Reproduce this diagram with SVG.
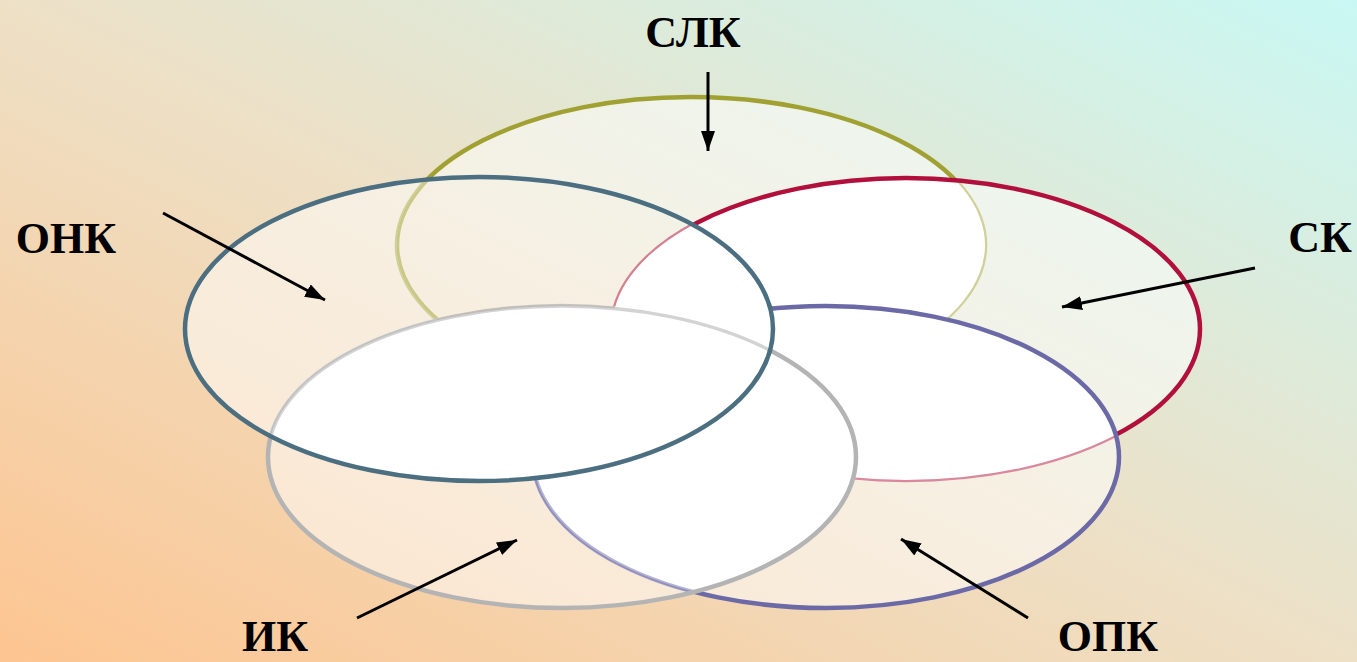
<svg xmlns="http://www.w3.org/2000/svg" width="1357" height="662" viewBox="0 0 1357 662">
  <defs>
    <linearGradient id="bg" x1="0" y1="1" x2="1" y2="0">
      <stop offset="0" stop-color="#fdc591"/>
      <stop offset="0.5" stop-color="#ede0c6"/>
      <stop offset="1" stop-color="#c9f8f4"/>
    </linearGradient>
    <linearGradient id="cream" x1="0" y1="1" x2="1" y2="0">
      <stop offset="0" stop-color="#fee2c8"/>
      <stop offset="0.5" stop-color="#f6f0e3"/>
      <stop offset="1" stop-color="#e4fcfa"/>
    </linearGradient>
    <clipPath id="cSLK"><ellipse cx="691" cy="245" rx="294" ry="148"/></clipPath>
    <clipPath id="cSK"><ellipse cx="906" cy="329" rx="294" ry="151"/></clipPath>
    <clipPath id="cIK"><ellipse cx="562" cy="457" rx="294" ry="151"/></clipPath>
    <clipPath id="cONK"><ellipse cx="479" cy="329" rx="294" ry="152"/></clipPath>
    <clipPath id="cSO">
      <ellipse cx="691" cy="245" rx="294" ry="148"/>
      <ellipse cx="826" cy="457" rx="293" ry="151"/>
    </clipPath>
    <clipPath id="cSI">
      <ellipse cx="906" cy="329" rx="294" ry="151"/>
      <ellipse cx="562" cy="457" rx="294" ry="151"/>
    </clipPath>
    <mask id="mONK" maskUnits="userSpaceOnUse" x="0" y="0" width="1357" height="662">
      <ellipse cx="479" cy="329" rx="297" ry="155" fill="#fff"/>
      <ellipse cx="691" cy="245" rx="294" ry="148" fill="#000"/>
    </mask>
    <marker id="ah" markerUnits="userSpaceOnUse" markerWidth="22" markerHeight="16" refX="20" refY="7" orient="auto">
      <path d="M0,0 L20,7 L0,14 z" fill="#000"/>
    </marker>
    <style>
      .veil { fill: #ffffff; fill-opacity: 0.5; stroke: none; }
      .solid { fill: #ffffff; stroke: none; }
      .ring { fill: none; stroke-width: 4.5; }
      .ghost { fill: none; stroke-width: 3.5; opacity: 0.5; }
      .lbl { font-family: "Liberation Serif", "Times New Roman", serif; font-weight: bold; font-size: 44px; fill: #000; text-anchor: middle; }
      .arr { stroke: #000; stroke-width: 3; fill: none; marker-end: url(#ah); }
    </style>
  </defs>
  <rect x="0" y="0" width="1357" height="662" fill="url(#bg)"/>

  <g id="node-slk">
    <ellipse class="veil" cx="691" cy="245" rx="294" ry="148"/>
    <ellipse class="ring" cx="691" cy="245" rx="294" ry="148" stroke="#a0a132"/>
  </g>
  <g id="node-sk">
    <ellipse class="veil" cx="906" cy="329" rx="294" ry="151"/>
    <g clip-path="url(#cSLK)"><ellipse class="solid" cx="906" cy="329" rx="294" ry="151"/></g>
    <ellipse class="ring" cx="906" cy="329" rx="294" ry="151" stroke="#b2103c"/>
  </g>
  <g id="node-opk">
    <ellipse class="veil" cx="826" cy="457" rx="293" ry="151"/>
    <g clip-path="url(#cSK)"><ellipse class="solid" cx="826" cy="457" rx="293" ry="151"/></g>
    <ellipse class="ring" cx="826" cy="457" rx="293" ry="151" stroke="#6b69a6"/>
  </g>
  <g id="node-ik">
    <ellipse class="veil" cx="562" cy="457" rx="294" ry="151"/>
    <g clip-path="url(#cSO)"><ellipse class="solid" cx="562" cy="457" rx="294" ry="151"/></g>
    <ellipse class="ghost" cx="826" cy="457" rx="293" ry="151" stroke="#6b69a6" clip-path="url(#cIK)"/>
    <ellipse class="ring" cx="562" cy="457" rx="294" ry="151" stroke="#b4b4b4"/>
  </g>
  <g id="node-onk">
    <ellipse class="veil" cx="479" cy="329" rx="294" ry="152" mask="url(#mONK)"/>
    <g clip-path="url(#cSLK)"><rect x="0" y="0" width="1357" height="662" fill="url(#cream)" opacity="0.5" clip-path="url(#cONK)"/></g>
    <g clip-path="url(#cSI)"><ellipse class="solid" cx="479" cy="329" rx="294" ry="152"/></g>
    <ellipse class="ghost" cx="562" cy="457" rx="294" ry="151" stroke="#a8a8a8" clip-path="url(#cONK)"/>
    <ellipse class="ring" cx="479" cy="329" rx="294" ry="152" stroke="#4b6e80"/>
  </g>

  <g id="labels">
    <text class="lbl" x="693" y="47">СЛК</text>
    <text class="lbl" x="66" y="253">ОНК</text>
    <text class="lbl" x="1320" y="252">СК</text>
    <text class="lbl" x="275" y="651">ИК</text>
    <text class="lbl" x="1108" y="651">ОПК</text>
  </g>

  <g id="connectors">
    <line class="arr" x1="708" y1="72" x2="708" y2="151"/>
    <line class="arr" x1="163" y1="213" x2="325" y2="300"/>
    <line class="arr" x1="1255" y1="268" x2="1062" y2="307"/>
    <line class="arr" x1="357" y1="618" x2="517" y2="540"/>
    <line class="arr" x1="1028" y1="618" x2="901" y2="539"/>
  </g>
</svg>
